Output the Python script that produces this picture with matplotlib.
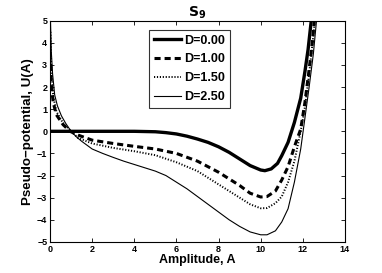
import matplotlib
matplotlib.use('Agg')
import matplotlib.pyplot as plt

plt.rcParams['font.family'] = ['Liberation Sans', 'DejaVu Sans']
plt.rcParams['font.weight'] = 'bold'

# values
amp_d0 = [0.0, 1.0, 2.0, 3.0, 4.0, 5.0, 5.5, 6.0, 6.5, 7.0, 7.5, 8.0, 8.5, 9.0,
          9.5, 10.0, 10.2, 10.5, 10.8, 11.0, 11.3, 11.6, 11.9, 12.1, 12.25, 12.4]
pot_d0 = [0.0, 0.0, 0.0, 0.0, 0.0, -0.02, -0.06, -0.12, -0.22, -0.35, -0.5, -0.7,
          -0.95, -1.25, -1.55, -1.75, -1.78, -1.7, -1.45, -1.1, -0.5, 0.4, 1.5,
          2.7, 3.7, 5.0]

amp_d1 = [0.03, 0.06, 0.15, 0.3, 0.62, 0.95, 1.33, 2.0, 3.0, 4.0, 5.0, 6.0, 7.0,
          8.0, 9.0, 9.5, 10.0, 10.3, 10.7, 11.0, 11.3, 11.6, 11.9, 12.1, 12.3,
          12.45, 12.55]
pot_d1 = [3.0, 2.1, 1.3, 0.75, 0.3, 0.0, -0.17, -0.4, -0.55, -0.68, -0.8, -1.0,
          -1.35, -1.85, -2.45, -2.8, -2.97, -2.95, -2.7, -2.2, -1.6, -0.7, 0.1,
          1.3, 2.8, 4.0, 5.0]

amp_d15 = [0.02, 0.06, 0.15, 0.3, 0.6, 1.0, 1.33, 2.0, 3.0, 4.0, 5.0, 6.0, 7.0,
           8.0, 9.0, 9.5, 10.0, 10.3, 10.7, 11.0, 11.3, 11.6, 11.9, 12.1, 12.3,
           12.45, 12.57]
pot_d15 = [4.5, 2.8, 1.6, 0.9, 0.4, 0.0, -0.3, -0.55, -0.75, -0.9, -1.08, -1.4,
           -1.8, -2.4, -3.0, -3.3, -3.48, -3.47, -3.25, -2.95, -2.3, -1.35, 0.0,
           1.1, 2.6, 3.9, 5.0]

amp_d25 = [0.02, 0.06, 0.12, 0.22, 0.35, 0.54, 0.75, 1.0, 1.25, 1.5, 2.0, 2.5,
           3.0, 3.5, 4.0, 4.5, 5.0, 5.5, 6.0, 6.5, 7.0, 7.5, 8.0, 8.5, 9.0, 9.5,
           10.0, 10.3, 10.7, 11.0, 11.3, 11.6, 11.9, 12.1, 12.3, 12.5, 12.65]
pot_d25 = [5.0, 3.6, 2.6, 1.65, 1.15, 0.7, 0.35, 0.0, -0.25, -0.45, -0.8, -1.0,
           -1.18, -1.35, -1.5, -1.65, -1.8, -2.0, -2.3, -2.6, -2.95, -3.3, -3.65,
           -4.0, -4.3, -4.55, -4.68, -4.68, -4.5, -4.1, -3.5, -2.3, -0.8, 0.6,
           2.0, 3.5, 5.0]

labels = ['D=0.00', 'D=1.00', 'D=1.50', 'D=2.50']
x_ticks = [0, 2, 4, 6, 8, 10, 12, 14]
y_ticks = [-5, -4, -3, -2, -1, 0, 1, 2, 3, 4, 5]

fig = plt.figure(figsize=(3.82, 2.73), dpi=100)
ax = fig.add_axes([0.131, 0.114, 0.772, 0.81])

ax.plot(amp_d0, pot_d0, color='black', lw=2.4, ls='-', label=labels[0])
ax.plot(amp_d1, pot_d1, color='black', lw=2.2, ls=(0, (2.0, 1.3)), label=labels[1])
ax.plot(amp_d15, pot_d15, color='black', lw=1.4, ls=(0, (0.6, 0.9)), label=labels[2])
ax.plot(amp_d25, pot_d25, color='black', lw=0.8, ls='-', label=labels[3])

ax.set_xlim(0, 14)
ax.set_ylim(-5, 5)
ax.set_xticks(x_ticks)
ax.set_yticks(y_ticks)
ax.tick_params(direction='in', top=True, right=True, labelsize=6.5,
               length=3, width=0.6, pad=2)
for lbl in ax.get_xticklabels() + ax.get_yticklabels():
    lbl.set_fontweight('bold')
for sp in ax.spines.values():
    sp.set_linewidth(0.8)

ax.set_xlabel('Amplitude, A', fontsize=9, fontweight='bold', labelpad=0)
ax.set_ylabel('Pseudo\u2212potential, U(A)', fontsize=9.6, fontweight='bold', labelpad=2)
ax.set_title(r'$\mathbf{S_9}$', fontsize=10, pad=3)

leg = ax.legend(loc='upper left', bbox_to_anchor=(0.337, 0.96), fontsize=9,
                frameon=True, fancybox=False, edgecolor='black', handlelength=2.1,
                borderpad=0.4, labelspacing=0.55, handletextpad=0.3,
                borderaxespad=0)
leg.get_frame().set_linewidth(0.8)
for t in leg.get_texts():
    t.set_fontweight('bold')

fig.savefig('out.png', dpi=100)
